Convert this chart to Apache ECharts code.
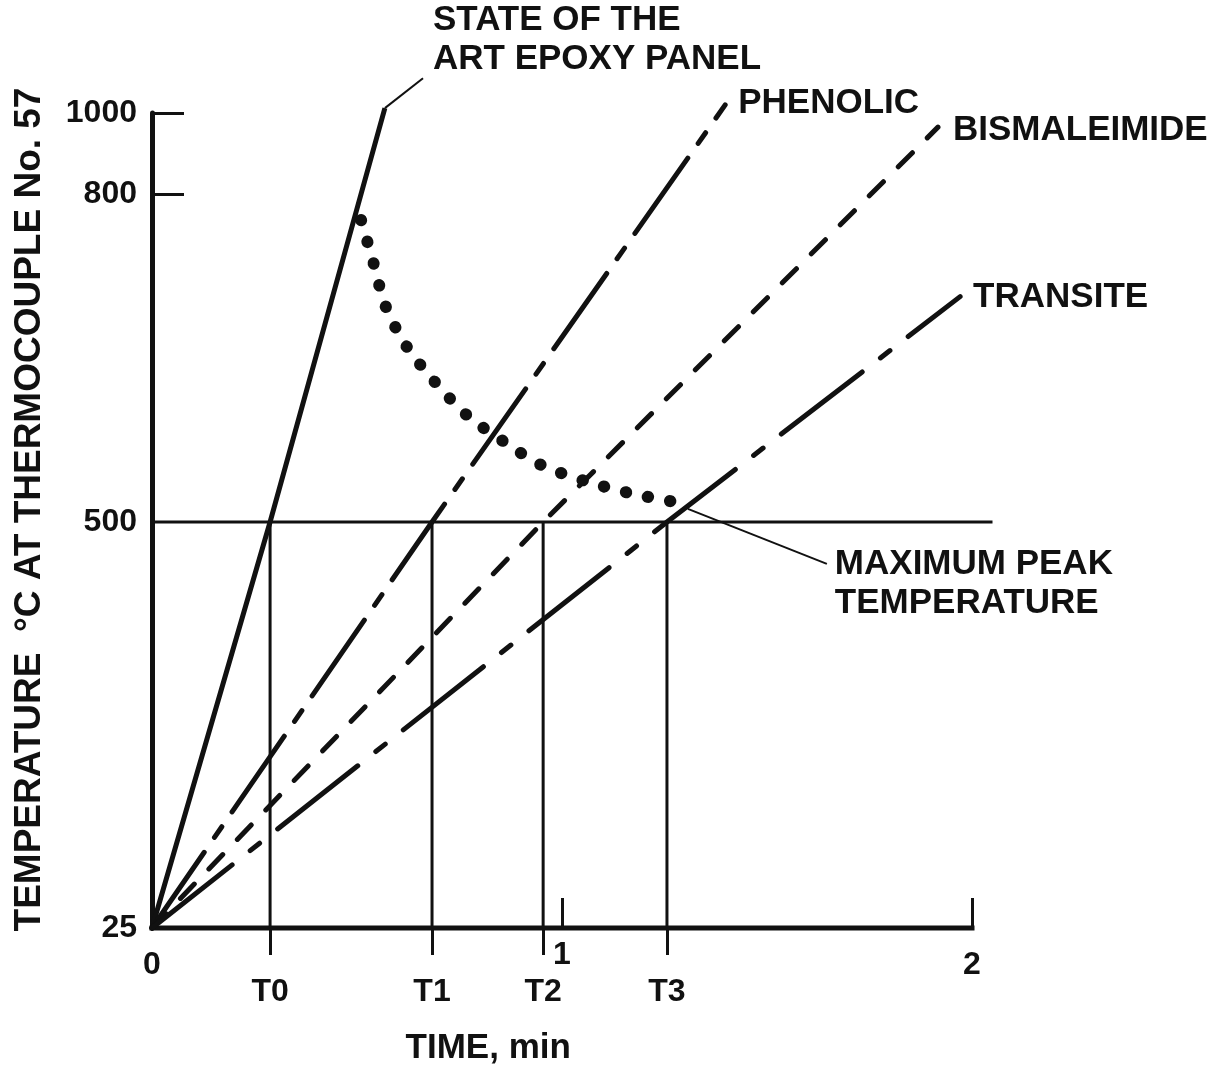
<!DOCTYPE html>
<html><head><meta charset="utf-8">
<script src="https://cdn.jsdelivr.net/npm/echarts@6/dist/echarts.min.js"></script>
<style>html,body{margin:0;padding:0;background:#fff}#chart{width:1231px;height:1071px}</style>
</head><body><div id="chart"></div>
<script>
// ---------------- data ----------------
const xTickValues = [0, 1, 2];
const xTickMarks = [1, 2];
const tMarkNames = ['T0', 'T1', 'T2', 'T3'];
const tMarkTimes = [0.288, 0.683, 0.954, 1.256];
const yTickTemps = [25, 500, 800, 1000];
const yTickMarks = [800, 1000];
// the original figure uses a schematic, non-linear temperature scale: temperature -> axis units
const scaleTemps = [25, 500, 800, 1000];
const scaleUnits = [0, 407, 736, 817];

const epoxy = [[0, 25], [0.288, 500], [0.568, 1012]];
const phenolic = [[0, 25], [0.683, 500], [1.398, 1020]];
const bismaleimide = [[0, 25], [0.954, 500], [1.917, 965]];
const transite = [[0, 25], [1.256, 500], [1.971, 706]];
const maxPeakTemp = [[0.51, 776], [0.54, 737], [0.57, 697], [0.62, 661], [0.69, 628], [0.77, 597],
  [0.86, 573], [0.95, 552], [1.06, 537], [1.17, 526], [1.28, 518]];
const referenceTemp = 500;
const referenceEnd = 2.05;   // the 500 °C line runs a little past the end of the time axis
const timeAxisEnd = 2;
const epoxyLeader = [[0.568, 1012], [0.661, 1086]];
const peakLeader = [[1.307, 512], [1.646, 451]];

// ---------------- helpers ----------------
const INK = '#111';
const FONT = '"Liberation Sans", Arial, Helvetica, sans-serif';
function u(t) {
  let i = 0;
  while (i < scaleTemps.length - 2 && t > scaleTemps[i + 1]) i++;
  const t0 = scaleTemps[i], t1 = scaleTemps[i + 1], u0 = scaleUnits[i], u1 = scaleUnits[i + 1];
  return u0 + (t - t0) * (u1 - u0) / (t1 - t0);
}
const toXY = arr => arr.map(p => [p[0], u(p[1])]);
const txt = (size, extra) => Object.assign({ color: INK, fontFamily: FONT, fontWeight: 'bold', fontSize: size }, extra || {});

function curve(name, data, width, dash, label, extra) {
  const s = {
    type: 'line', name: name, data: toXY(data), symbol: 'none', showSymbol: false, clip: false,
    silent: true, z: 5,
    lineStyle: { color: INK, width: width, type: dash, cap: dash === 'solid' ? 'butt' : 'round', join: 'round' }
  };
  if (label) {
    s.endLabel = Object.assign(txt(35, { lineHeight: 39 }), {
      show: true, formatter: () => label.text, align: 'left', verticalAlign: 'middle',
      distance: 0, offset: label.offset
    });
  }
  return Object.assign(s, extra || {});
}

const series = [];
// time axis base line (0 .. 2 min)
series.push(curve('timeAxis', [[0, scaleTemps[0]], [timeAxisEnd, scaleTemps[0]]], 5, 'solid', null, { z: 3, lineStyle: { color: INK, width: 5, cap: 'square' } }));
// 500 °C reference line
series.push(curve('ref500', [[0, referenceTemp], [referenceEnd, referenceTemp]], 3, 'solid', null, { z: 2 }));
// vertical guides at T0..T3
tMarkTimes.forEach((t, i) => series.push(curve(tMarkNames[i], [[t, referenceTemp], [t, scaleTemps[0]]], 3, 'solid', null, { z: 2 })));

series.push(curve('STATE OF THE ART EPOXY PANEL', epoxy, 5, 'solid'));
series.push(curve('epoxyLeader', epoxyLeader, 2, 'solid', { text: 'STATE OF THE\nART EPOXY PANEL', offset: [10, -38] }));
series.push(curve('PHENOLIC', phenolic, 5, [92, 18, 13, 18], { text: 'PHENOLIC', offset: [13, -2] }));
series.push(curve('BISMALEIMIDE', bismaleimide, 5, [20, 21], { text: 'BISMALEIMIDE', offset: [15, 3] }));
series.push(curve('TRANSITE', transite, 5, [102, 23, 12, 23], { text: 'TRANSITE', offset: [13, 1] }));
series.push(curve('MAXIMUM PEAK TEMPERATURE', maxPeakTemp, 12, [0.5, 22], null, { smooth: 0.3 }));
series.push(curve('peakLeader', peakLeader, 2, 'solid', { text: 'MAXIMUM PEAK\nTEMPERATURE', offset: [8, 20] }));

const chart = echarts.init(document.getElementById('chart'), null, { renderer: 'canvas' });
// x = 2 min sits at 972 px; the axis extent runs to referenceEnd so the 500 °C line can overhang
const gridLeft = 152, pxPerMin = 410;
chart.setOption({
  animation: false,
  backgroundColor: '#fff',
  grid: { left: gridLeft, right: 1231 - (gridLeft + referenceEnd * pxPerMin), top: 113, bottom: 140, containLabel: false },
  xAxis: [{
    type: 'value', min: 0, max: referenceEnd, position: 'bottom',
    axisLine: { show: false, onZero: false },
    axisTick: { show: true, inside: true, length: 30, customValues: xTickMarks, lineStyle: { color: INK, width: 3 } },
    axisLabel: Object.assign(txt(32), {
      show: true, customValues: xTickValues, margin: 21,
      formatter: v => (Math.round(v) === 1 ? '{hi|1}' : String(Math.round(v))),
      rich: { hi: txt(32, { lineHeight: 12 }) }
    }),
    splitLine: { show: false },
    name: 'TIME, min', nameLocation: 'middle', nameGap: 103,
    nameTextStyle: txt(35, { padding: [0, 168, 0, 0] })
  }, {
    type: 'value', min: 0, max: referenceEnd, position: 'bottom',
    axisLine: { show: false },
    axisTick: { show: true, inside: false, length: 27, customValues: tMarkTimes, lineStyle: { color: INK, width: 3 } },
    axisLabel: Object.assign(txt(32), {
      show: true, customValues: tMarkTimes, margin: 48,
      formatter: v => { const i = tMarkTimes.findIndex(t => Math.abs(t - v) < 1e-6); return i >= 0 ? tMarkNames[i] : ''; }
    }),
    splitLine: { show: false }
  }],
  yAxis: {
    type: 'value', min: 0, max: u(1000),
    axisLine: { show: true, onZero: false, lineStyle: { color: INK, width: 5 } },
    axisTick: { show: true, inside: true, length: 32, customValues: yTickMarks.map(u), lineStyle: { color: INK, width: 3 } },
    axisLabel: Object.assign(txt(32), {
      show: true, customValues: yTickTemps.map(u), margin: 15,
      formatter: v => { const i = yTickTemps.findIndex(t => Math.abs(u(t) - v) < 1e-6); return i >= 0 ? String(yTickTemps[i]) : ''; }
    }),
    splitLine: { show: false },
    name: 'TEMPERATURE  °C AT THERMOCOUPLE No. 57', nameLocation: 'middle', nameGap: 104,
    nameTextStyle: txt(37, { padding: [0, 0, 0, 22] })
  },
  series: series
});
</script></body></html>
